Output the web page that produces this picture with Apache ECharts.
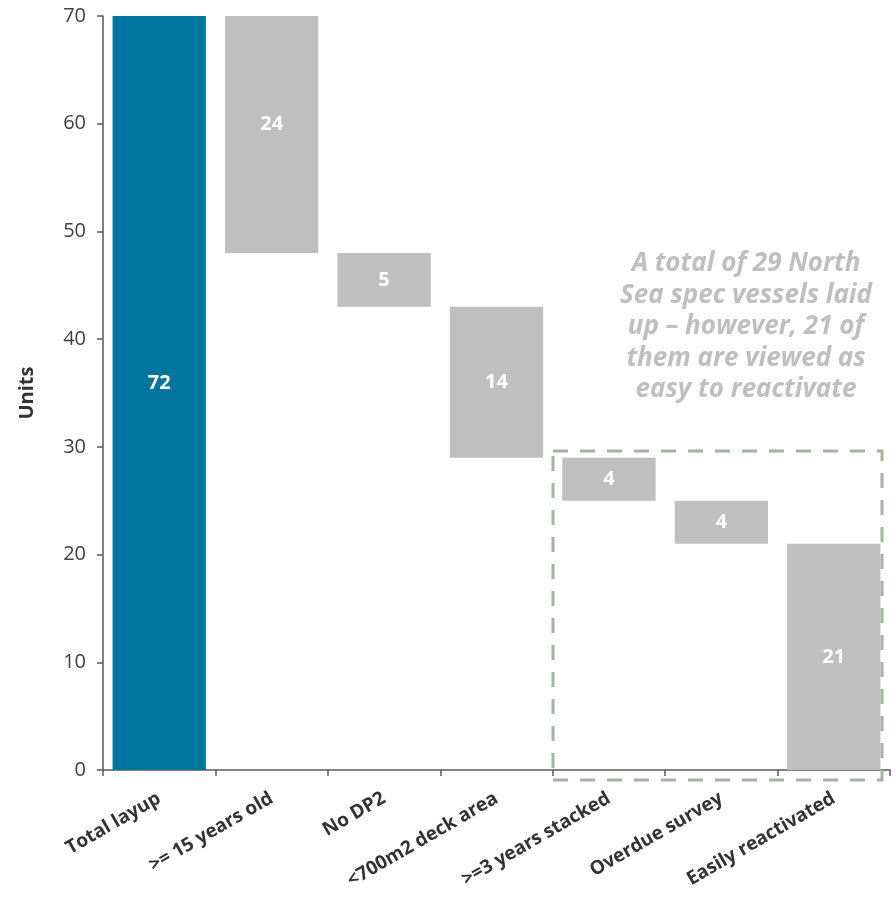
<!DOCTYPE html>
<html>
<head>
<meta charset="utf-8">
<script src="https://cdn.jsdelivr.net/npm/echarts@6/dist/echarts.min.js"></script>
<style>
html,body{margin:0;padding:0;background:#fff;}
#c{width:896px;height:901px;}
</style>
</head>
<body>
<div id="c"></div>
<script>
const categories = ['Total layup', '>= 15 years old', 'No DP2', '<700m2 deck area', '>=3 years stacked', 'Overdue survey', 'Easily reactivated'];
const values = [72, 24, 5, 14, 4, 4, 21];
const kinds = ['total', 'drop', 'drop', 'drop', 'drop', 'drop', 'total'];
const yMin = 0, yMax = 70, yInterval = 10;
const axisTitle = 'Units';
const noteText = 'A total of 29 North\nSea spec vessels laid\nup \u2013 however, 21 of\nthem are viewed as\neasy to reactivate';

// waterfall bases derived from the values
const bases = [];
let running = 0;
values.forEach((v, i) => {
  if (kinds[i] === 'total') { bases.push(0); running = v; }
  else { running -= v; bases.push(running); }
});

const FONT = '"Open Sans", "Noto Sans", sans-serif';
const BLUE = '#00769F', GREY = '#BFBFBF';
// labels of the two bars that run past the axis top sit at the centre of the full (unclipped) bar
const labelOffsets = {0: [0, -10], 1: [0, -10]};

const chart = echarts.init(document.getElementById('c'), null, {renderer: 'canvas'});
chart.setOption({
  animation: false,
  backgroundColor: '#fff',
  grid: {left: 103, right: 6, top: 16, bottom: 131, containLabel: false},
  xAxis: {
    type: 'category',
    data: categories,
    axisLine: {lineStyle: {color: '#595959', width: 1.5}},
    axisTick: {show: true, length: 6, lineStyle: {color: '#595959', width: 1.5}},
    axisLabel: {rotate: 30, margin: 27, fontFamily: FONT, fontWeight: 'bold', fontSize: 19, color: '#333', interval: 0}
  },
  yAxis: {
    type: 'value',
    min: yMin, max: yMax, interval: yInterval,
    name: axisTitle, nameLocation: 'middle', nameGap: 66, nameRotate: 90,
    nameTextStyle: {fontFamily: FONT, fontWeight: 'bold', fontSize: 20, color: '#333'},
    axisLine: {show: true, lineStyle: {color: '#595959', width: 1.5}},
    axisTick: {show: true, length: 6, lineStyle: {color: '#595959', width: 1.5}},
    splitLine: {show: false},
    axisLabel: {fontFamily: FONT, fontSize: 20, color: '#404040', margin: 17}
  },
  series: [
    {
      type: 'bar', stack: 'wf', barWidth: '83%', silent: true,
      itemStyle: {color: 'transparent'},
      data: bases
    },
    {
      type: 'bar', stack: 'wf', barWidth: '83%',
      data: values.map((v, i) => ({
        value: v,
        itemStyle: {color: i === 0 ? BLUE : GREY},
        label: labelOffsets[i] ? {offset: labelOffsets[i]} : {}
      })),
      label: {show: true, position: 'inside', color: '#fff', fontFamily: FONT, fontWeight: 'bold', fontSize: 20}
    }
  ],
  graphic: [
    {
      type: 'rect', silent: true, z: 10,
      shape: {x: 553, y: 451, width: 329, height: 329},
      style: {fill: 'none', stroke: '#A2B5A0', lineWidth: 3, lineDash: [15, 12]}
    },
    {
      type: 'text', silent: true, z: 10,
      x: 746, y: 248,
      style: {
        text: noteText, textAlign: 'center', textVerticalAlign: 'top',
        font: 'italic bold 26px ' + FONT, lineHeight: 31.5, fill: GREY
      }
    }
  ]
});
</script>
</body>
</html>
